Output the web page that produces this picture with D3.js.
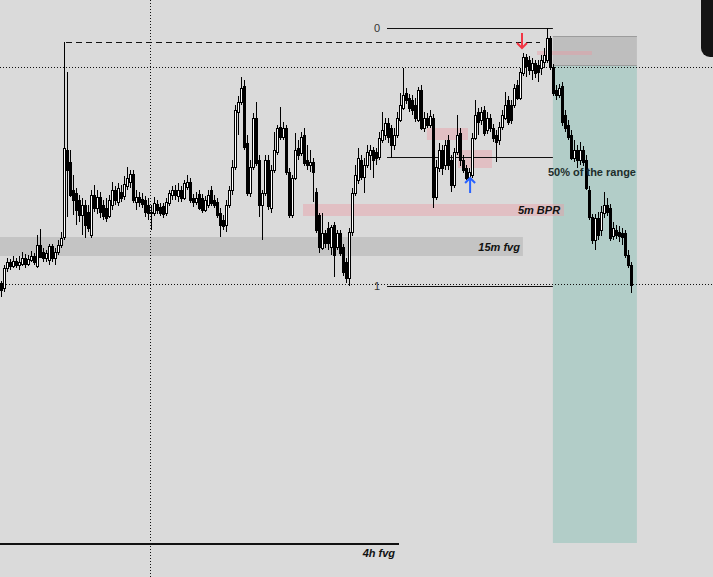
<!DOCTYPE html>
<html>
<head>
<meta charset="utf-8">
<script src="https://cdnjs.cloudflare.com/ajax/libs/d3/7.8.5/d3.min.js"></script>
<style>
  html, body { margin: 0; padding: 0; background: #dadada; overflow: hidden; }
  svg { display: block; }
  text { font-family: "Liberation Sans", Arial, sans-serif; }
</style>
</head>
<body>
<div id="chart"></div>
<script>

// candles, [open, high, low, close]
var candles = [
  [17717,17719,17703,17710],[17712,17735,17708,17732],[17732,17742,17728,17738],[17738,17741,17730,17734],
  [17734,17744,17732,17739],[17739,17742,17732,17735],[17735,17744,17730,17738],[17736,17748,17734,17742],
  [17742,17746,17732,17736],[17736,17745,17734,17741],[17740,17749,17738,17744],[17744,17747,17735,17738],
  [17734,17765,17732,17755],[17755,17771,17742,17743],[17748,17752,17738,17742],[17742,17750,17738,17747],
  [17740,17756,17735,17754],[17754,17756,17738,17742],[17742,17752,17735,17748],[17748,17760,17745,17755],
  [17755,17768,17752,17762],[17763,17958,17760,17852],[17850,17928,17783,17830],[17838,17850,17803,17805],
  [17810,17825,17785,17800],[17807,17812,17775,17790],[17800,17805,17778,17785],[17785,17802,17765,17795],
  [17795,17800,17762,17775],[17788,17795,17768,17772],[17765,17810,17762,17805],[17805,17815,17788,17792],
  [17792,17810,17786,17803],[17803,17808,17782,17788],[17795,17800,17780,17784],[17792,17802,17778,17782],
  [17784,17805,17782,17800],[17795,17818,17790,17810],[17810,17814,17795,17800],[17798,17817,17794,17812],
  [17808,17815,17798,17802],[17804,17824,17800,17816],[17814,17833,17810,17822],[17818,17830,17812,17826],
  [17826,17830,17797,17800],[17798,17810,17790,17803],[17803,17808,17793,17798],[17801,17807,17792,17796],
  [17800,17804,17783,17788],[17795,17802,17780,17787],[17788,17795,17770,17787],[17787,17803,17784,17797],
  [17796,17800,17786,17790],[17793,17797,17784,17787],[17794,17797,17782,17786],[17787,17802,17784,17798],
  [17797,17810,17794,17807],[17805,17814,17800,17810],[17810,17815,17800,17805],[17804,17817,17798,17810],
  [17810,17814,17798,17802],[17802,17820,17800,17817],[17813,17825,17810,17818],[17818,17822,17797,17800],
  [17802,17806,17793,17798],[17798,17808,17795,17802],[17806,17810,17790,17792],[17802,17806,17787,17790],
  [17790,17804,17788,17800],[17795,17810,17792,17805],[17810,17814,17794,17797],[17800,17805,17792,17795],
  [17798,17802,17782,17785],[17787,17792,17763,17775],[17780,17785,17770,17774],[17775,17800,17768,17795],
  [17795,17814,17792,17810],[17810,17840,17805,17833],[17833,17895,17830,17890],[17888,17904,17865,17898],
  [17898,17923,17895,17912],[17914,17920,17850,17853],[17857,17865,17804,17807],[17807,17840,17803,17833],
  [17833,17887,17830,17882],[17882,17898,17834,17837],[17840,17845,17783,17795],[17795,17810,17760,17807],
  [17807,17845,17804,17840],[17840,17845,17790,17794],[17792,17835,17787,17830],[17830,17868,17827,17850],
  [17848,17875,17845,17872],[17873,17893,17860,17863],[17863,17878,17860,17872],[17872,17875,17825,17828],
  [17828,17832,17782,17785],[17785,17825,17782,17822],[17822,17867,17820,17850],[17852,17860,17840,17845],
  [17847,17868,17844,17863],[17865,17872,17834,17837],[17840,17855,17830,17835],[17835,17850,17828,17838],
  [17838,17842,17798,17828],[17808,17812,17767,17770],[17785,17787,17747,17753],[17752,17787,17750,17767],
  [17767,17770,17752,17757],[17772,17778,17750,17757],[17753,17775,17745,17773],[17775,17778,17723,17745],
  [17753,17770,17750,17767],[17767,17770,17744,17747],[17753,17756,17724,17728],[17738,17742,17717,17722],
  [17722,17772,17714,17768],[17768,17812,17764,17807],[17807,17835,17804,17825],[17820,17852,17816,17842],
  [17840,17845,17820,17823],[17823,17842,17807,17835],[17835,17855,17832,17848],[17845,17855,17830,17850],
  [17850,17853,17822,17840],[17848,17852,17835,17842],[17843,17868,17840,17862],[17860,17888,17857,17870],
  [17865,17882,17860,17877],[17877,17882,17857,17863],[17872,17875,17842,17855],[17855,17872,17850,17865],
  [17865,17888,17862,17882],[17880,17907,17878,17895],[17892,17932,17890,17905],[17907,17912,17896,17900],
  [17902,17906,17888,17892],[17900,17905,17885,17890],[17895,17902,17878,17882],[17880,17913,17878,17910],
  [17910,17915,17870,17872],[17872,17888,17868,17882],[17882,17887,17872,17875],[17875,17890,17872,17884],
  [17882,17886,17792,17803],[17803,17840,17800,17833],[17832,17857,17828,17850],[17850,17855,17825,17832],
  [17835,17860,17830,17855],[17860,17865,17830,17835],[17840,17845,17808,17815],[17815,17852,17812,17848],
  [17848,17885,17845,17865],[17867,17872,17834,17840],[17840,17845,17827,17830],[17832,17835,17820,17822],
  [17822,17832,17821,17828],[17825,17867,17822,17862],[17862,17900,17860,17885],[17888,17892,17865,17878],
  [17880,17893,17875,17888],[17890,17894,17864,17867],[17870,17888,17866,17882],[17882,17886,17868,17872],
  [17872,17876,17858,17862],[17865,17870,17838,17858],[17860,17878,17855,17873],[17873,17890,17870,17885],
  [17882,17908,17880,17895],[17900,17904,17875,17878],[17895,17900,17876,17880],[17895,17916,17892,17912],
  [17915,17920,17900,17902],[17902,17932,17900,17928],[17927,17947,17924,17943],[17943,17946,17923,17934],
  [17940,17944,17925,17930],[17930,17942,17920,17937],[17937,17940,17922,17927],[17935,17940,17918,17928],
  [17932,17945,17925,17940],[17938,17952,17932,17945],[17940,17972,17937,17962],[17962,17964,17930,17933],
  [17933,17936,17904,17907],[17910,17915,17900,17905],[17905,17916,17902,17912],[17914,17918,17874,17878],
  [17885,17890,17868,17872],[17875,17880,17860,17863],[17865,17870,17840,17842],[17842,17860,17838,17850],
  [17850,17855,17832,17840],[17840,17858,17835,17850],[17850,17854,17834,17838],[17840,17845,17810,17812],
  [17810,17814,17780,17783],[17783,17786,17756,17760],[17760,17786,17750,17782],[17782,17788,17760,17765],
  [17770,17794,17764,17788],[17787,17808,17782,17795],[17795,17802,17784,17788],[17792,17796,17759,17762],
  [17764,17778,17760,17772],[17770,17775,17761,17765],[17768,17774,17758,17764],[17767,17772,17755,17763],
  [17767,17770,17742,17745],[17745,17750,17732,17735],[17735,17738,17707,17715]
];

// fib range: 0 at the high, 1 at the low
var fibLevels = [
  { label: "0", price: 17972 },
  { label: "0.5", price: 17843 },
  { label: "1", price: 17714 }
];
var fibFrom = 128.5, fibTo = 183.8, fibLabelAt = 126.2;

// zones, in bar index and price
var greyZones = [
  { name: "15m fvg", from: -0.5, to: 173.8, top: 17763, bottom: 17744 }
];
var pinkZones = [
  { name: "5m BPR", from: 100.5, to: 187.5, top: 17796, bottom: 17784 },
  { name: "", from: 141.8, to: 155.5, top: 17872, bottom: 17860 },
  { name: "", from: 152.2, to: 163.5, top: 17850, bottom: 17832 },
  { name: "", from: 178.5, to: 196.8, top: 17949, bottom: 17945 }
];
var targetZone = { from: 183.8, to: 211.8, top: 17934, bottom: 17457 };
var stopZone = { from: 183.8, to: 211.8, top: 17964, bottom: 17935 };

var dottedPrices = [17933, 17715.5];
var dottedBar = 49.83;
var highLine = { from: 21.5, to: 179.5, price: 17958 };
var fvg4h = { from: -0.5, to: 132.5, price: 17456 };

var labels = [
  { text: "15m fvg", bar: 172.8, price: 17753 },
  { text: "5m BPR", bar: 186.2, price: 17790 },
  { text: "50% of the range", bar: 211.5, price: 17828, plain: true },
  { text: "4h fvg", bar: 131.2, price: 17447 }
];

var arrows = [
  { bar: 156.2, price: 17822, dir: "up", color: "#2962ff" },
  { bar: 173.5, price: 17952, dir: "down", color: "#f23645" }
];

var width = 713, height = 577;

var svg = d3.select("#chart")
    .append("svg")
    .attr("width", width)
    .attr("height", height);

var x = d3.scaleLinear()
    .domain([0, candles.length - 1])
    .range([1.5, 631.5]);

var y = d3.scaleLinear()
    .domain([17423, 18000])
    .range([height, 0]);

function px(v) { return Math.floor(v) + 0.5; }

svg.append("rect")
    .attr("width", width)
    .attr("height", height)
    .attr("fill", "#dadada");

// target zone (teal) and stop zone (grey)
svg.append("rect")
    .attr("x", x(targetZone.from))
    .attr("y", y(targetZone.top))
    .attr("width", x(targetZone.to) - x(targetZone.from))
    .attr("height", y(targetZone.bottom) - y(targetZone.top))
    .attr("fill", "#b2cdc8");

svg.append("rect")
    .attr("x", x(stopZone.from))
    .attr("y", y(stopZone.top))
    .attr("width", x(stopZone.to) - x(stopZone.from))
    .attr("height", y(stopZone.bottom) - y(stopZone.top))
    .attr("fill", "#bebebe");

[stopZone.top, stopZone.bottom].forEach(function(p) {
    svg.append("line")
        .attr("x1", x(stopZone.from)).attr("x2", x(stopZone.to))
        .attr("y1", px(y(p))).attr("y2", px(y(p)))
        .attr("stroke", "#9c9c9c");
});

svg.selectAll(".grey-zone")
    .data(greyZones)
    .enter()
    .append("rect")
    .attr("class", "grey-zone")
    .attr("x", function(d) { return Math.max(0, x(d.from)); })
    .attr("y", function(d) { return y(d.top); })
    .attr("width", function(d) { return x(d.to) - Math.max(0, x(d.from)); })
    .attr("height", function(d) { return y(d.bottom) - y(d.top); })
    .attr("fill", "#c4c4c4");

svg.selectAll(".pink-zone")
    .data(pinkZones)
    .enter()
    .append("rect")
    .attr("class", "pink-zone")
    .attr("x", function(d) { return x(d.from); })
    .attr("y", function(d) { return y(d.top); })
    .attr("width", function(d) { return x(d.to) - x(d.from); })
    .attr("height", function(d) { return y(d.bottom) - y(d.top); })
    .attr("fill", "rgba(235,150,160,0.4)");

// dotted cross lines
svg.selectAll(".dot-h")
    .data(dottedPrices)
    .enter()
    .append("line")
    .attr("class", "dot-h")
    .attr("x1", 0).attr("x2", width)
    .attr("y1", function(d) { return px(y(d)); })
    .attr("y2", function(d) { return px(y(d)); })
    .attr("stroke", "#111")
    .attr("stroke-dasharray", "1,2");

svg.append("line")
    .attr("x1", px(x(dottedBar))).attr("x2", px(x(dottedBar)))
    .attr("y1", 0).attr("y2", height)
    .attr("stroke", "#111")
    .attr("stroke-dasharray", "1,2");

// dashed high line
svg.append("line")
    .attr("x1", x(highLine.from)).attr("x2", x(highLine.to))
    .attr("y1", px(y(highLine.price))).attr("y2", px(y(highLine.price)))
    .attr("stroke", "#111")
    .attr("stroke-dasharray", "6,4");

// fib lines and labels
svg.selectAll(".fib")
    .data(fibLevels)
    .enter()
    .append("line")
    .attr("class", "fib")
    .attr("x1", x(fibFrom)).attr("x2", x(fibTo))
    .attr("y1", function(d) { return px(y(d.price)); })
    .attr("y2", function(d) { return px(y(d.price)); })
    .attr("stroke", "#111");

svg.selectAll(".fib-label")
    .data(fibLevels)
    .enter()
    .append("text")
    .attr("class", "fib-label")
    .attr("x", x(fibLabelAt))
    .attr("y", function(d) { return y(d.price); })
    .attr("dy", "0.35em")
    .attr("text-anchor", "end")
    .style("font-size", "11px")
    .attr("fill", function(d) { return d.label == "0.5" ? "#c4c4c4" : "#333"; })
    .text(function(d) { return d.label; });

// 4h fvg line
svg.append("line")
    .attr("x1", Math.max(0, x(fvg4h.from))).attr("x2", x(fvg4h.to))
    .attr("y1", y(fvg4h.price)).attr("y2", y(fvg4h.price))
    .attr("stroke", "#111")
    .attr("stroke-width", 2);

// candles: 1px wick, 3px body (white up, black down)
var bars = svg.append("g");

bars.selectAll(".wick")
    .data(candles)
    .enter()
    .append("rect")
    .attr("class", "wick")
    .attr("x", function(d, i) { return Math.floor(x(i)); })
    .attr("y", function(d) { return Math.round(y(d[1])); })
    .attr("width", 1)
    .attr("height", function(d) { return Math.max(1, Math.round(y(d[2])) - Math.round(y(d[1]))); })
    .attr("fill", "#000");

bars.selectAll(".body")
    .data(candles)
    .enter()
    .append("rect")
    .attr("class", "body")
    .attr("x", function(d, i) { return Math.floor(x(i)) - 0.5; })
    .attr("y", function(d) { return Math.round(y(Math.max(d[0], d[3]))) + 0.5; })
    .attr("width", 2)
    .attr("height", function(d) {
        return Math.max(1, Math.round(Math.abs(y(d[0]) - y(d[3]))));
    })
    .attr("fill", function(d) { return d[3] >= d[0] ? "#fff" : "#000"; })
    .attr("stroke", "#000");

// zone labels
svg.selectAll(".zone-label")
    .data(labels)
    .enter()
    .append("text")
    .attr("class", "zone-label")
    .attr("x", function(d) { return x(d.bar); })
    .attr("y", function(d) { return y(d.price); })
    .attr("dy", "0.35em")
    .attr("text-anchor", "end")
    .style("font-size", "11px")
    .style("font-weight", "bold")
    .style("font-style", function(d) { return d.plain ? "normal" : "italic"; })
    .attr("fill", function(d) { return d.plain ? "#1d2e2c" : "#111"; })
    .text(function(d) { return d.text; });

// arrows
arrows.forEach(function(a) {
    var ax = x(a.bar), ay = y(a.price);
    var s = a.dir == "up" ? 1 : -1;
    svg.append("path")
        .attr("d", "M" + ax + "," + ay + "L" + ax + "," + (ay + s * 15))
        .attr("stroke", a.color)
        .attr("stroke-width", 2)
        .attr("fill", "none");
    svg.append("path")
        .attr("d", "M" + (ax - 5) + "," + (ay + s * 5) + "L" + ax + "," + ay + "L" + (ax + 5) + "," + (ay + s * 5))
        .attr("stroke", a.color)
        .attr("stroke-width", 2)
        .attr("fill", "none");
});

// toolbar edge in the top right corner
svg.append("rect")
    .attr("x", 701).attr("y", -12)
    .attr("width", 24).attr("height", 69)
    .attr("rx", 9)
    .attr("fill", "#141414");

</script>
</body>
</html>
